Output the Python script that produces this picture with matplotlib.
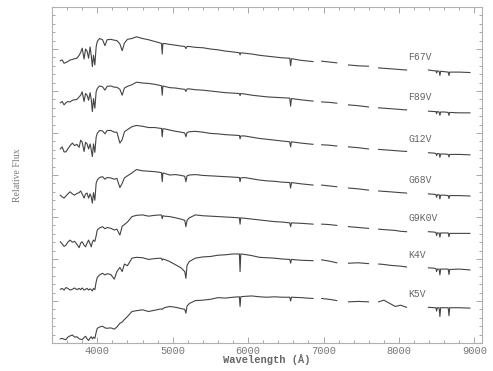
"""Stellar template spectra, stacked with offsets"""
import matplotlib
matplotlib.use('Agg')
import matplotlib.pyplot as plt
from matplotlib.ticker import MultipleLocator

nan = float('nan')

# wavelength grid (Angstrom), nan marks the telluric gaps
wave = [3510, 3535, 3560, 3585, 3610, 3640, 3670, 3700, 3730, 3760,
        3780, 3800, 3825, 3845, 3865, 3885, 3905, 3920, 3935, 3950,
        3968, 3985, 4000, 4030, 4070, 4102, 4130, 4180, 4226, 4260,
        4300, 4330, 4360, 4400, 4460, 4520, 4600, 4680, 4760, 4840,
        4852, 4861, 4870, 4890, 4960, 5040, 5110, 5160, 5175, 5190,
        5220, 5300, 5400, 5500, 5600, 5700, 5800, 5884, 5893, 5902,
        5950, 6050, 6150, 6250, 6350, 6450, 6552, 6563, 6574, 6700,
        6860, nan, 6975, 7075, 7175, nan, 7330, 7460, 7595, nan,
        7730, 7800, 7880, 7950, 8020, 8100, nan, 8390, 8470, 8490,
        8498, 8508, 8532, 8542, 8552, 8600, 8652, 8662, 8672, 8800,
        8940]

f67v = [6.72, 6.74, 6.66, 6.68, 6.70, 6.74, 6.75, 6.77, 6.78, 6.85,
        6.92, 7.02, 6.76, 7.00, 6.95, 6.78, 7.05, 6.85, 6.58, 6.85,
        6.62, 7.05, 7.18, 7.25, 7.22, 7.08, 7.22, 7.23, 7.21, 7.20,
        7.12, 6.96, 7.14, 7.23, 7.25, 7.29, 7.25, 7.22, 7.18, 7.14,
        7.13, 6.88, 7.13, 7.13, 7.11, 7.09, 7.07, 7.06, 7.01, 7.06,
        7.06, 7.04, 7.03, 7.00, 6.98, 6.95, 6.93, 6.91, 6.86, 6.91,
        6.90, 6.88, 6.85, 6.83, 6.81, 6.79, 6.78, 6.60, 6.77, 6.73,
        6.70, nan, 6.71, 6.69, 6.67, nan, 6.62, 6.60, 6.59, nan,
        6.55, 6.54, 6.53, 6.52, 6.51, 6.50, nan, 6.50, 6.48, 6.48,
        6.43, 6.48, 6.47, 6.37, 6.47, 6.46, 6.45, 6.37, 6.45, 6.45,
        6.44]

f89v = [5.72, 5.75, 5.67, 5.72, 5.75, 5.74, 5.78, 5.79, 5.80, 5.86,
        5.90, 5.98, 5.75, 5.94, 5.90, 5.78, 5.96, 5.80, 5.51, 5.82,
        5.59, 5.98, 6.06, 6.12, 6.10, 6.02, 6.11, 6.12, 6.09, 6.09,
        6.04, 5.90, 6.07, 6.11, 6.15, 6.21, 6.19, 6.18, 6.16, 6.13,
        6.12, 5.90, 6.12, 6.11, 6.08, 6.07, 6.05, 6.04, 5.99, 6.05,
        6.05, 6.03, 6.02, 6.00, 5.98, 5.96, 5.95, 5.94, 5.89, 5.94,
        5.93, 5.90, 5.88, 5.86, 5.85, 5.84, 5.83, 5.64, 5.82, 5.79,
        5.76, nan, 5.74, 5.73, 5.71, nan, 5.67, 5.65, 5.62, nan,
        5.60, 5.59, 5.58, 5.57, 5.56, 5.55, nan, 5.52, 5.51, 5.51,
        5.46, 5.51, 5.50, 5.42, 5.50, 5.50, 5.49, 5.42, 5.49, 5.48,
        5.48]

g12v = [4.62, 4.67, 4.55, 4.55, 4.62, 4.70, 4.76, 4.70, 4.73, 4.66,
        4.83, 4.78, 4.56, 4.78, 4.74, 4.62, 4.74, 4.60, 4.44, 4.74,
        4.54, 4.90, 4.99, 5.06, 5.05, 4.98, 5.06, 5.06, 5.02, 5.02,
        4.76, 4.84, 5.03, 5.08, 5.15, 5.18, 5.16, 5.13, 5.13, 5.11,
        5.11, 4.91, 5.10, 5.10, 5.07, 5.04, 5.02, 5.00, 4.91, 5.01,
        5.03, 5.04, 5.02, 4.99, 4.98, 4.96, 4.95, 4.94, 4.86, 4.93,
        4.93, 4.90, 4.87, 4.85, 4.83, 4.81, 4.79, 4.67, 4.79, 4.76,
        4.73, nan, 4.72, 4.71, 4.69, nan, 4.67, 4.65, 4.62, nan,
        4.61, 4.60, 4.59, 4.58, 4.57, 4.56, nan, 4.53, 4.52, 4.51,
        4.46, 4.51, 4.51, 4.42, 4.50, 4.50, 4.49, 4.43, 4.49, 4.49,
        4.48]

g68v = [3.52, 3.48, 3.45, 3.50, 3.55, 3.60, 3.55, 3.52, 3.56, 3.58,
        3.62, 3.55, 3.45, 3.55, 3.57, 3.45, 3.55, 3.48, 3.33, 3.58,
        3.40, 3.80, 3.88, 3.94, 3.96, 3.90, 3.94, 3.93, 3.90, 3.92,
        3.70, 3.80, 3.93, 3.98, 4.05, 4.13, 4.10, 4.09, 4.08, 4.06,
        4.05, 3.84, 4.05, 4.04, 4.00, 4.01, 3.99, 3.97, 3.84, 3.98,
        4.00, 4.01, 3.99, 3.98, 3.97, 3.96, 3.95, 3.94, 3.84, 3.93,
        3.94, 3.91, 3.88, 3.86, 3.85, 3.83, 3.82, 3.69, 3.82, 3.79,
        3.76, nan, 3.76, 3.74, 3.72, nan, 3.69, 3.67, 3.64, nan,
        3.62, 3.61, 3.60, 3.59, 3.58, 3.57, nan, 3.55, 3.54, 3.53,
        3.47, 3.53, 3.53, 3.43, 3.52, 3.52, 3.51, 3.44, 3.51, 3.51,
        3.50]

g9k0v = [2.41, 2.36, 2.30, 2.33, 2.40, 2.45, 2.40, 2.42, 2.35, 2.27,
         2.38, 2.41, 2.33, 2.29, 2.38, 2.45, 2.36, 2.29, 2.40, 2.45,
         2.42, 2.55, 2.69, 2.74, 2.77, 2.72, 2.75, 2.73, 2.69, 2.71,
         2.57, 2.78, 2.82, 2.88, 3.01, 3.04, 3.05, 3.02, 3.04, 3.05,
         3.04, 2.96, 3.03, 3.02, 3.01, 2.98, 2.95, 2.92, 2.77, 2.92,
         2.98, 3.05, 3.03, 3.02, 3.01, 3.00, 2.99, 2.98, 2.83, 2.98,
         2.97, 2.95, 2.93, 2.91, 2.89, 2.88, 2.86, 2.77, 2.86, 2.85,
         2.83, nan, 2.83, 2.82, 2.80, nan, 2.77, 2.75, 2.73, nan,
         2.71, 2.70, 2.69, 2.68, 2.66, 2.65, nan, 2.65, 2.64, 2.63,
         2.56, 2.62, 2.62, 2.52, 2.62, 2.62, 2.62, 2.53, 2.61, 2.61,
         2.61]

k4v = [1.28, 1.30, 1.26, 1.32, 1.30, 1.26, 1.28, 1.31, 1.27, 1.30,
       1.27, 1.31, 1.26, 1.28, 1.30, 1.26, 1.29, 1.27, 1.24, 1.30,
       1.27, 1.45, 1.56, 1.62, 1.66, 1.62, 1.65, 1.63, 1.52, 1.70,
       1.80, 1.70, 1.88, 1.84, 2.02, 2.04, 2.03, 1.99, 2.01, 2.02,
       2.01, 1.97, 2.00, 1.99, 1.94, 1.86, 1.79, 1.70, 1.54, 1.85,
       1.94, 2.02, 2.05, 2.06, 2.09, 2.10, 2.12, 2.12, 1.70, 2.12,
       2.11, 2.08, 2.04, 2.03, 2.02, 2.00, 1.99, 1.90, 1.99, 1.97,
       1.96, nan, 1.98, 1.95, 1.91, nan, 1.90, 1.91, 1.89, nan,
       1.88, 1.87, 1.85, 1.84, 1.83, 1.81, nan, 1.79, 1.78, 1.77,
       1.70, 1.76, 1.76, 1.62, 1.76, 1.76, 1.76, 1.63, 1.75, 1.76,
       1.74]

k5v = [0.10, 0.11, 0.09, 0.08, 0.14, 0.17, 0.19, 0.14, 0.15, 0.10,
       0.09, 0.08, 0.13, 0.16, 0.10, 0.06, 0.12, 0.15, 0.10, 0.14,
       0.11, 0.25, 0.35, 0.38, 0.40, 0.36, 0.35, 0.36, 0.33, 0.38,
       0.47, 0.50, 0.56, 0.63, 0.75, 0.77, 0.79, 0.75, 0.78, 0.81,
       0.81, 0.80, 0.82, 0.84, 0.87, 0.85, 0.82, 0.80, 0.71, 0.88,
       0.94, 1.01, 1.02, 1.04, 1.08, 1.07, 1.09, 1.10, 0.87, 1.10,
       1.11, 1.12, 1.10, 1.09, 1.10, 1.09, 1.09, 1.00, 1.09, 1.08,
       1.06, nan, 1.06, 1.04, 1.01, nan, 0.98, 0.99, 0.98, nan,
       0.98, 1.02, 0.94, 0.87, 0.90, 0.85, nan, 0.85, 0.84, 0.84,
       0.76, 0.84, 0.84, 0.63, 0.84, 0.84, 0.84, 0.65, 0.84, 0.84,
       0.83]

names = ['F67V', 'F89V', 'G12V', 'G68V', 'G9K0V', 'K4V', 'K5V']
label_y = [6.81, 5.85, 4.85, 3.88, 2.97, 2.10, 1.16]
spectra = [f67v, f89v, g12v, g68v, g9k0v, k4v, k5v]

fig = plt.figure(figsize=(4.93, 3.71), dpi=100)
ax = fig.add_axes([52 / 493, 1 - 343 / 371, 430 / 493, 336 / 371])

for flux in spectra:
    ax.plot(wave, flux, color='#444444', lw=0.8)

for name, y in zip(names, label_y):
    ax.text(8120, y, name, ha='left', va='center', fontsize=7,
            family='Liberation Mono', color='#666666')

ax.set_xlim(3400, 9100)
ax.set_ylim(0, 8)
ax.xaxis.set_major_locator(MultipleLocator(1000))
ax.xaxis.set_minor_locator(MultipleLocator(200))
ax.yaxis.set_major_locator(MultipleLocator(1))
ax.yaxis.set_minor_locator(MultipleLocator(0.2))
ax.tick_params(which='both', direction='in', top=True, right=True,
               color='#999999', width=0.6)
ax.tick_params(which='major', length=4, pad=2)
ax.tick_params(which='minor', length=2)
ax.set_yticklabels([])
for lab in ax.get_xticklabels():
    lab.set_family('Liberation Mono')
    lab.set_fontsize(7.5)
    lab.set_color('#777777')
for sp in ax.spines.values():
    sp.set_color('#b0b0b0')
    sp.set_linewidth(0.8)

fig.text(267 / 493, 1 - 360 / 371, 'Wavelength (Å)', ha='center', va='center',
         fontsize=7.5, family='Liberation Mono', fontweight='bold', color='#666666')
fig.text(17 / 493, 1 - 175 / 371, 'Relative Flux', ha='center', va='center',
         rotation=90, fontsize=7, family='Liberation Serif', color='#777777')

fig.savefig('out.png', dpi=100)
